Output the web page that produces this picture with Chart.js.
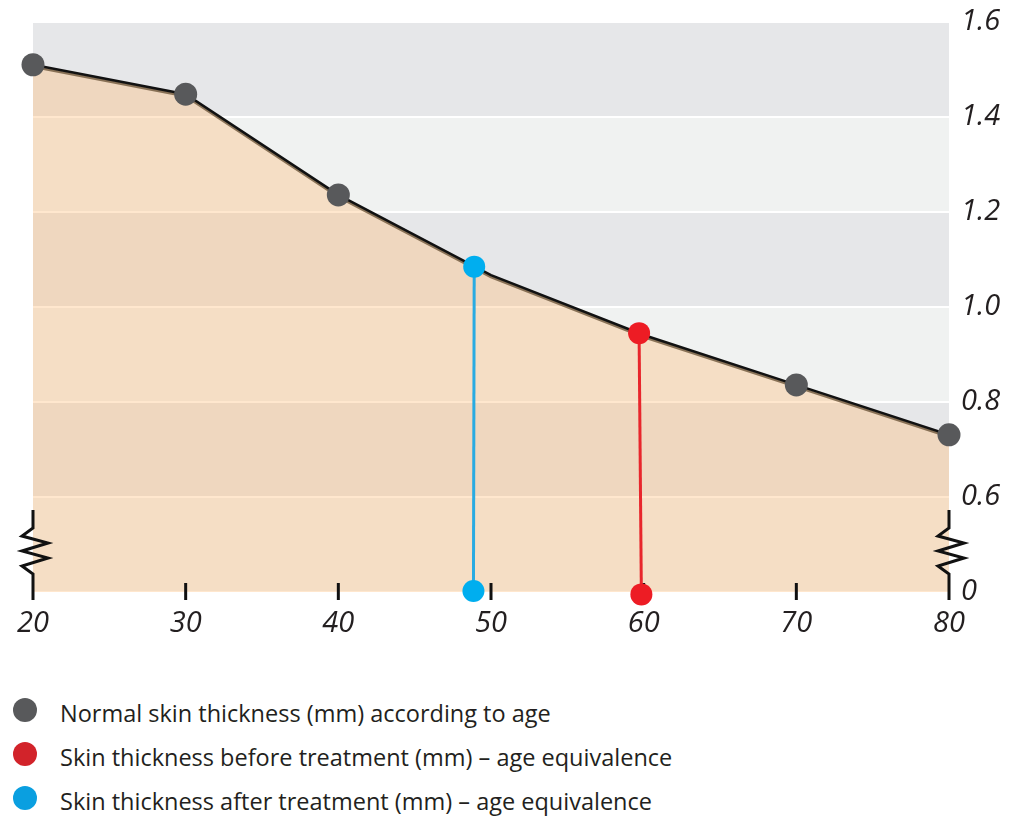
<!DOCTYPE html>
<html>
<head>
<meta charset="utf-8">
<script src="https://cdn.jsdelivr.net/npm/chart.js"></script>
<style>
  html, body { margin: 0; padding: 0; background: #ffffff; }
  #wrap { position: relative; width: 1020px; height: 821px; overflow: hidden; }
  #chart-box { position: absolute; left: 0; top: 0; width: 1020px; height: 660px; }
  #legend { position: absolute; left: 0; top: 692px; font-family: "Open Sans", sans-serif; font-size: 23.5px; color: #231f20; }
  .legend-row { position: relative; height: 44px; }
  .legend-dot { position: absolute; left: 13px; top: 6px; width: 24px; height: 24px; border-radius: 50%; }
  .legend-text { position: absolute; left: 60px; top: 6px; white-space: nowrap; line-height: 30px; }
</style>
</head>
<body>
<div id="wrap">
  <div id="chart-box"><canvas id="skin-chart"></canvas></div>
  <div id="legend"></div>
</div>
<script>
// age (years) on x, skin thickness (mm) on y; the y axis is broken, so its
// bottom value 0.4 is labelled "0"
const ages = [20, 30, 40, 50, 60, 70, 80];
const normalThickness = [1.51, 1.448, 1.236, 1.067, 0.941, 0.836, 0.731];
const dotAges = [20, 30, 40, 70, 80];

const beforeAges = [59.7, 59.85];
const beforeThickness = [0.945, 0.395];

const afterAges = [48.9, 48.85];
const afterThickness = [1.085, 0.402];

const yTicks = [0.4, 0.6, 0.8, 1.0, 1.2, 1.4, 1.6];
const xTicks = [20, 30, 40, 50, 60, 70, 80];

const legendLabels = [
  'Normal skin thickness (mm) according to age',
  'Skin thickness before treatment (mm) \u2013 age equivalence',
  'Skin thickness after treatment (mm) \u2013 age equivalence'
];
const legendColors = ['#58595b', '#d2232a', '#0a9fe0'];

const normalLine = ages.map((a, i) => ({ x: a, y: normalThickness[i] }));
const normalDots = normalLine.filter(p => dotAges.includes(p.x));
const beforeLine = beforeAges.map((a, i) => ({ x: a, y: beforeThickness[i] }));
const afterLine = afterAges.map((a, i) => ({ x: a, y: afterThickness[i] }));

const tickFont = { family: '"Open Sans", sans-serif', size: 29, style: 'italic', weight: '400' };

// grey / light bands behind the plot
const bandsPlugin = {
  id: 'bands',
  beforeDraw(chart) {
    const { ctx, chartArea } = chart;
    const y = chart.scales.y;
    ctx.save();
    for (let i = 0; i < yTicks.length - 1; i++) {
      const top = y.getPixelForValue(yTicks[i + 1]);
      const bottom = y.getPixelForValue(yTicks[i]);
      ctx.fillStyle = (yTicks.length - 2 - i) % 2 === 0 ? '#e6e7e9' : '#f0f2f1';
      ctx.fillRect(chartArea.left, top, chartArea.right - chartArea.left, bottom - top);
    }
    ctx.restore();
  }
};

// shadow under the main line, then axis ticks and break marks
const decorPlugin = {
  id: 'decor',
  beforeDatasetDraw(chart, args) {
    if (args.index !== 0) return;
    const ctx = chart.ctx;
    ctx.save();
    ctx.shadowColor = 'rgba(110, 88, 60, 0.8)';
    ctx.shadowOffsetX = 0;
    ctx.shadowOffsetY = 2;
    ctx.shadowBlur = 0;
  },
  afterDatasetDraw(chart, args) {
    if (args.index !== 0) return;
    const ctx = chart.ctx;
    ctx.restore();
    const x = chart.scales.x;
    const bottom = chart.chartArea.bottom;
    ctx.save();
    ctx.strokeStyle = '#111111';
    ctx.lineWidth = 3;
    xTicks.forEach((t, i) => {
      const px = x.getPixelForValue(t);
      ctx.beginPath();
      if (i === 0 || i === xTicks.length - 1) {
        ctx.moveTo(px, bottom - 82);
        ctx.lineTo(px, bottom - 64);
        ctx.lineTo(px - 11, bottom - 56);
        ctx.lineTo(px + 15, bottom - 49);
        ctx.lineTo(px - 11, bottom - 41);
        ctx.lineTo(px + 15, bottom - 34);
        ctx.lineTo(px - 11, bottom - 26);
        ctx.lineTo(px, bottom - 18);
        ctx.lineTo(px, bottom + 8);
      } else {
        ctx.moveTo(px, bottom - 9);
        ctx.lineTo(px, bottom + 8);
      }
      ctx.stroke();
    });
    ctx.restore();
  }
};

const chart = new Chart(document.getElementById('skin-chart'), {
  type: 'scatter',
  data: {
    datasets: [
      {
        label: 'line',
        data: normalLine,
        showLine: true,
        borderColor: '#111111',
        borderWidth: 2.5,
        pointRadius: 0,
        fill: 'start',
        backgroundColor: 'rgba(255, 187, 114, 0.35)',
        order: 4
      },
      {
        label: legendLabels[0],
        data: normalDots,
        pointRadius: 11.5,
        pointBackgroundColor: '#58595b',
        pointBorderWidth: 0,
        clip: false,
        order: 3
      },
      {
        label: legendLabels[1],
        data: beforeLine,
        showLine: true,
        borderColor: '#e8262c',
        borderWidth: 3,
        pointRadius: 11,
        pointBackgroundColor: '#ed1c24',
        pointBorderWidth: 0,
        clip: false,
        order: 2
      },
      {
        label: legendLabels[2],
        data: afterLine,
        showLine: true,
        borderColor: '#29abe2',
        borderWidth: 3,
        pointRadius: 11,
        pointBackgroundColor: '#00aeef',
        pointBorderWidth: 0,
        clip: false,
        order: 1
      }
    ]
  },
  options: {
    responsive: true,
    maintainAspectRatio: false,
    animation: false,
    events: [],
    layout: { padding: { left: 33, top: 22, right: 0, bottom: 0 } },
    plugins: {
      legend: { display: false },
      tooltip: { enabled: false }
    },
    scales: {
      x: {
        type: 'linear',
        min: 20,
        max: 80,
        afterBuildTicks: (scale) => { scale.ticks = xTicks.map(v => ({ value: v })); },
        afterFit: (scale) => {
          scale.height = 68;
          scale.paddingLeft = 0;
          scale.paddingRight = 0;
        },
        grid: { display: false, drawTicks: false },
        border: { display: false },
        ticks: { color: '#231f20', font: tickFont, padding: 14, maxRotation: 0 }
      },
      y: {
        type: 'linear',
        position: 'right',
        min: 0.4,
        max: 1.6,
        afterBuildTicks: (scale) => { scale.ticks = yTicks.map(v => ({ value: v })); },
        afterFit: (scale) => {
          scale.width = 71;
          scale.paddingTop = 0;
          scale.paddingBottom = 0;
        },
        grid: { color: '#ffffff', lineWidth: 2, drawTicks: false },
        border: { display: false },
        ticks: {
          color: '#231f20',
          font: tickFont,
          padding: 12,
          callback: (v) => Math.abs(v - 0.4) < 1e-6 ? '0' : v.toFixed(1)
        }
      }
    }
  },
  plugins: [bandsPlugin, decorPlugin]
});

// legend below the chart
const legendEl = document.getElementById('legend');
legendLabels.forEach((text, i) => {
  const row = document.createElement('div');
  row.className = 'legend-row';
  row.innerHTML = '<span class="legend-dot" style="background:' + legendColors[i] + '"></span>' +
    '<span class="legend-text">' + text + '</span>';
  legendEl.appendChild(row);
});
</script>
</body>
</html>
